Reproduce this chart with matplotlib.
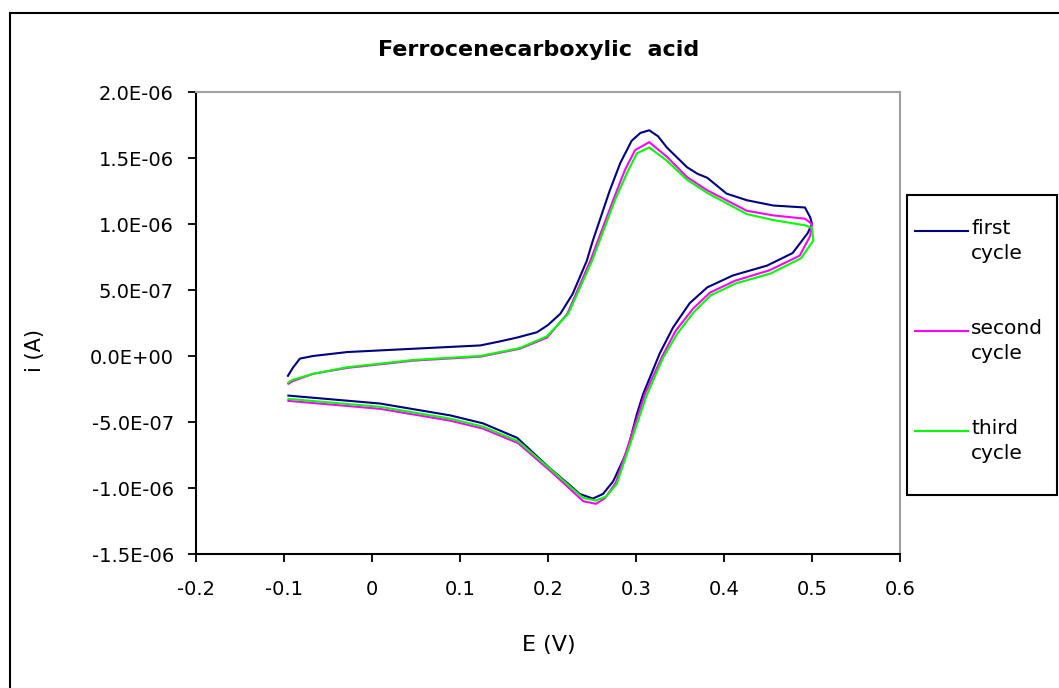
import matplotlib.pyplot as plt
import numpy as np
from matplotlib.ticker import FuncFormatter
from matplotlib.lines import Line2D
from matplotlib.patches import Rectangle

plt.rcParams['font.family'] = ['DejaVu Sans']

# potential (V) and current (uA), one cycle per series
E1 = [-0.0955, -0.09, -0.082, -0.067, -0.028, 0.047, 0.123, 0.145, 0.165, 0.1875, 0.2, 0.214, 0.228,
      0.244, 0.251, 0.27, 0.282, 0.295, 0.305, 0.315, 0.325, 0.335, 0.358, 0.370, 0.381,
      0.403, 0.426, 0.456, 0.492, 0.498, 0.500, 0.495, 0.478, 0.449, 0.41,
      0.381, 0.361, 0.342, 0.327, 0.308, 0.301, 0.29, 0.274, 0.2625, 0.251,
      0.236, 0.225, 0.202, 0.165, 0.126, 0.089, 0.009, -0.095]
i1 = [-0.15, -0.09, -0.02, 0.00, 0.03, 0.055, 0.08, 0.11, 0.14, 0.18, 0.235, 0.32, 0.47,
      0.72, 0.875, 1.25, 1.46, 1.63, 1.69, 1.71, 1.665, 1.58, 1.43, 1.38, 1.35,
      1.23, 1.18, 1.14, 1.125, 1.05, 1.0, 0.93, 0.78, 0.685, 0.61,
      0.52, 0.40, 0.215, 0.02, -0.29, -0.44, -0.72, -0.95, -1.045, -1.08,
      -1.045, -0.98, -0.85, -0.62, -0.51, -0.45, -0.36, -0.30]

E2 = [-0.095, -0.09, -0.067, -0.028, 0.047, 0.123, 0.168, 0.199, 0.222, 0.248,
      0.274, 0.2875, 0.299, 0.315, 0.335, 0.358, 0.381, 0.426, 0.456, 0.492,
      0.500, 0.498, 0.486, 0.452, 0.4125, 0.384, 0.365, 0.345, 0.33, 0.31,
      0.293, 0.277, 0.265, 0.2545, 0.24, 0.227, 0.205, 0.166, 0.126, 0.089,
      0.009, -0.095]
i2 = [-0.21, -0.19, -0.135, -0.09, -0.035, -0.005, 0.055, 0.14, 0.32, 0.72,
      1.18, 1.41, 1.56, 1.62, 1.51, 1.355, 1.255, 1.10, 1.065, 1.04,
      1.0, 0.91, 0.76, 0.65, 0.57, 0.48, 0.36, 0.19, 0.0, -0.29,
      -0.64, -0.96, -1.075, -1.12, -1.10, -1.02, -0.885, -0.66, -0.55, -0.49,
      -0.40, -0.34]

E3 = [-0.095, -0.09, -0.067, -0.028, 0.047, 0.123, 0.168, 0.199, 0.223, 0.25,
      0.276, 0.29, 0.301, 0.315, 0.335, 0.358, 0.381, 0.426, 0.456, 0.492,
      0.500, 0.5015, 0.4875, 0.453, 0.4135, 0.385, 0.366, 0.347, 0.331, 0.312,
      0.294, 0.278, 0.266, 0.2545, 0.24, 0.227, 0.205, 0.166, 0.126, 0.089,
      0.009, -0.095]
i3 = [-0.20, -0.18, -0.135, -0.085, -0.03, 0.0, 0.06, 0.15, 0.32, 0.72,
      1.18, 1.39, 1.535, 1.58, 1.48, 1.335, 1.235, 1.075, 1.03, 0.99,
      0.97, 0.875, 0.74, 0.625, 0.55, 0.46, 0.335, 0.17, -0.01, -0.30,
      -0.655, -0.97, -1.065, -1.095, -1.075, -1.0, -0.87, -0.645, -0.535, -0.475,
      -0.385, -0.325]

labels = ['first\ncycle', 'second\ncycle', 'third\ncycle']
colors = ['#000080', '#ff00ff', '#00ff00']
xticks = np.arange(-0.2, 0.61, 0.1)
yticks = np.arange(-1.5e-6, 2.01e-6, 0.5e-6)

W, H = 1059, 688
fig = plt.figure(figsize=(W / 100, H / 100), dpi=100)
ax = fig.add_axes([196 / W, 1 - 554 / H, (900 - 196) / W, (554 - 92) / H])

series = [(E1, i1), (E2, i2), (E3, i3)]
for (e, cur), c in zip(series, colors):
    ax.plot(e, np.array(cur) * 1e-6, color=c, lw=1.5)

ax.set_xlim(-0.2, 0.6)
ax.set_ylim(-1.5e-6, 2.0e-6)
ax.set_xticks(xticks)
ax.set_yticks(yticks)
ax.xaxis.set_major_formatter(FuncFormatter(lambda v, p: '%g' % round(v, 1)))
ax.yaxis.set_major_formatter(FuncFormatter(lambda v, p: '%.1E' % (0 if abs(v) < 1e-12 else v)))
ax.tick_params(direction='out', length=6, width=1.3, labelsize=14, colors='black', pad=10)
ax.tick_params(axis='x', pad=13)
for s in ['left', 'bottom']:
    ax.spines[s].set_linewidth(1.5)
    ax.spines[s].set_color('black')
for s in ['top', 'right']:
    ax.spines[s].set_linewidth(1.5)
    ax.spines[s].set_color('#a0a0a0')

fig.text(35 / W, 1 - 350 / H, 'i (A)', rotation=90, fontsize=15, ha='center', va='center')
fig.text(549 / W, 1 - 645 / H, 'E (V)', fontsize=16, ha='center', va='center')
fig.text(539 / W, 1 - 50 / H, 'Ferrocenecarboxylic  acid', fontsize=16,
         fontweight='bold', ha='center', va='center')

# outer chart border (only left and top edges fall inside the picture)
fig.add_artist(Line2D([10 / W, 10 / W], [0, 1 - 13 / H], transform=fig.transFigure, color='black', lw=1.5))
fig.add_artist(Line2D([10 / W, 1], [1 - 13 / H, 1 - 13 / H], transform=fig.transFigure, color='black', lw=1.5))

# legend box
fig.add_artist(Rectangle((907 / W, 1 - 495 / H), 150 / W, 300 / H, transform=fig.transFigure,
                         fill=False, edgecolor='black', lw=1.5))
for k, (lab, c) in enumerate(zip(labels, colors)):
    y = 231 + 100 * k
    fig.add_artist(Line2D([915 / W, 968 / W], [1 - y / H, 1 - y / H], transform=fig.transFigure, color=c, lw=1.5))
    fig.text(971 / W, 1 - (y - 12) / H, lab, fontsize=14.5, ha='left', va='top', linespacing=1.4)

fig.savefig('out.png', dpi=100)
